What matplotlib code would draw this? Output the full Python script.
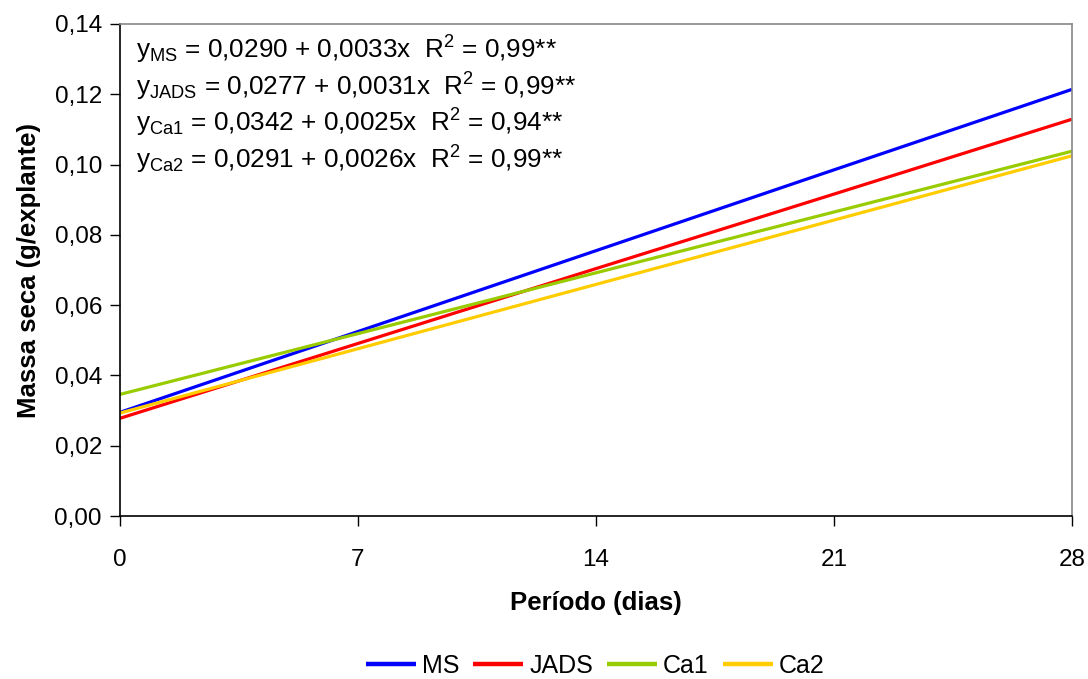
import matplotlib
matplotlib.use("Agg")
import matplotlib.pyplot as plt

plt.rcParams['font.family'] = ['Liberation Sans', 'DejaVu Sans']
plt.rcParams['mathtext.fontset'] = 'custom'
plt.rcParams['mathtext.rm'] = 'Liberation Sans'
plt.rcParams['mathtext.it'] = 'Liberation Sans'

days = [0, 7, 14, 21, 28]
ms = [0.0295, 0.0525, 0.0755, 0.0985, 0.1214]
jads = [0.0278, 0.0491, 0.0704, 0.0916, 0.1129]
ca1 = [0.0346, 0.0519, 0.0692, 0.0865, 0.1038]
ca2 = [0.0293, 0.0476, 0.0659, 0.0842, 0.1025]
series = [("MS", ms, "#0000FF"), ("JADS", jads, "#FF0000"),
          ("Ca1", ca1, "#99CC00"), ("Ca2", ca2, "#FFCC00")]
equations = [
    r"y$_{\mathrm{MS}}$ = 0,0290 + 0,0033x  R$^{\mathrm{2}}$ = 0,99**",
    r"y$_{\mathrm{JADS}}$ = 0,0277 + 0,0031x  R$^{\mathrm{2}}$ = 0,99**",
    r"y$_{\mathrm{Ca1}}$ = 0,0342 + 0,0025x  R$^{\mathrm{2}}$ = 0,94**",
    r"y$_{\mathrm{Ca2}}$ = 0,0291 + 0,0026x  R$^{\mathrm{2}}$ = 0,99**",
]
yticks = [0.00, 0.02, 0.04, 0.06, 0.08, 0.10, 0.12, 0.14]

fig = plt.figure(figsize=(10.88, 6.79), dpi=100)
ax = fig.add_axes([120/1088, 1-516/679, (1072-120)/1088, (516-24)/679])

for name, vals, col in series:
    ax.plot(days, vals, color=col, lw=2.3, label=name, solid_capstyle='butt')

ax.set_xlim(0, 28)
ax.set_ylim(0, 0.14)
ax.set_xticks(days)
ax.set_yticks(yticks)
ax.set_yticklabels([f"{v:.2f}".replace('.', ',') for v in yticks])
ax.tick_params(axis='both', labelsize=17.5, direction='out', length=7, width=1, color='black')
ax.tick_params(axis='x', pad=17)
ax.tick_params(axis='y', pad=6)
ax.spines['left'].set_color('black')
ax.spines['bottom'].set_color('black')
ax.spines['top'].set_color('#888888')
ax.spines['right'].set_color('#888888')
for s in ax.spines.values():
    s.set_linewidth(1.2)

ax.set_xlabel("Período (dias)", fontsize=18.5, fontweight='bold', labelpad=14)
ax.set_ylabel("Massa seca (g/explante)", fontsize=18.5, fontweight='bold', labelpad=10)

for i, eq in enumerate(equations):
    fig.text(136/1088, 1 - (50 + i*36.5)/679, eq, fontsize=18.8, va='center', ha='left')

leg = fig.legend(loc='center', bbox_to_anchor=(0.547, 1-666/679), ncol=4, frameon=False,
                 fontsize=18, handlelength=2.0, columnspacing=0.55, handletextpad=0.25)
for h in leg.get_lines():
    h.set_linewidth(3.2)

fig.savefig("out.png", dpi=100)
